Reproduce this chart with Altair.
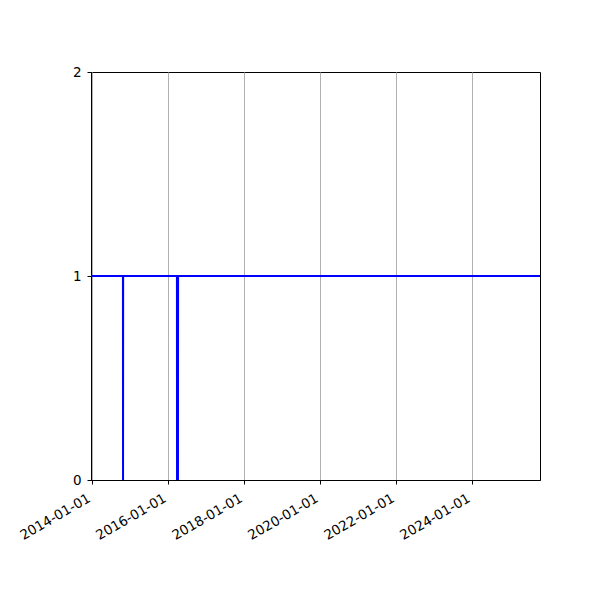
import altair as alt
import pandas as pd

# Series: value is 1 everywhere except two short drops to 0
dates = ["2013-12-19", "2014-10-22", "2014-10-23", "2014-10-24",
         "2016-03-24", "2016-03-25", "2016-04-03", "2016-04-04", "2025-10-13"]
values = [1, 1, 0, 1, 1, 0, 0, 1, 1]

tick_years = [2014, 2016, 2018, 2020, 2022, 2024]
y_ticks = [0, 1, 2]

df = pd.DataFrame({"date": dates, "value": values})

x_enc = alt.X(
    "date:T",
    scale=alt.Scale(type="utc",
                    domain=[alt.DateTime(year=2013, month=12, date=19, utc=True),
                            alt.DateTime(year=2025, month=10, date=13, utc=True)]),
    axis=alt.Axis(
        title=None,
        values=[alt.DateTime(year=y, month=1, date=1, utc=True) for y in tick_years],
        format="%Y-%m-%d",
        labelAngle=330,
        labelAlign="right",
        labelBaseline="top",
        labelFont="DejaVu Sans",
        labelFontSize=13.5,
        labelColor="black",
        labelPadding=7,
        labelOffset=-7,
        tickColor="black",
        tickSize=4,
        domainColor="black",
        grid=True,
        gridColor="#b0b0b0",
        gridWidth=1,
        labelOverlap=False,
    ),
)

y_enc = alt.Y(
    "value:Q",
    scale=alt.Scale(domain=[0, 2], nice=False, zero=False),
    axis=alt.Axis(
        title=None,
        tickCount=2,
        format="d",
        labelFont="DejaVu Sans",
        labelFontSize=13.5,
        labelColor="black",
        labelPadding=6,
        labelOverlap=False,
        labelFlush=False,
        tickColor="black",
        tickSize=4,
        domainColor="black",
        grid=False,
    ),
)

chart = (
    alt.Chart(df)
    .mark_line(color="#0000ff", strokeWidth=2, clip=True)
    .encode(x=x_enc, y=y_enc)
    .properties(
        width=449,
        height=408,
        autosize=alt.AutoSizeParams(type="none"),
        padding={"left": 83, "top": 64, "right": 52, "bottom": 112},
        background="white",
    )
    .configure_view(stroke="black", strokeWidth=1)
    .configure_axis(domainWidth=1, tickWidth=1)
)

chart.save("out.html", embed_options={"renderer": "svg", "actions": False})
